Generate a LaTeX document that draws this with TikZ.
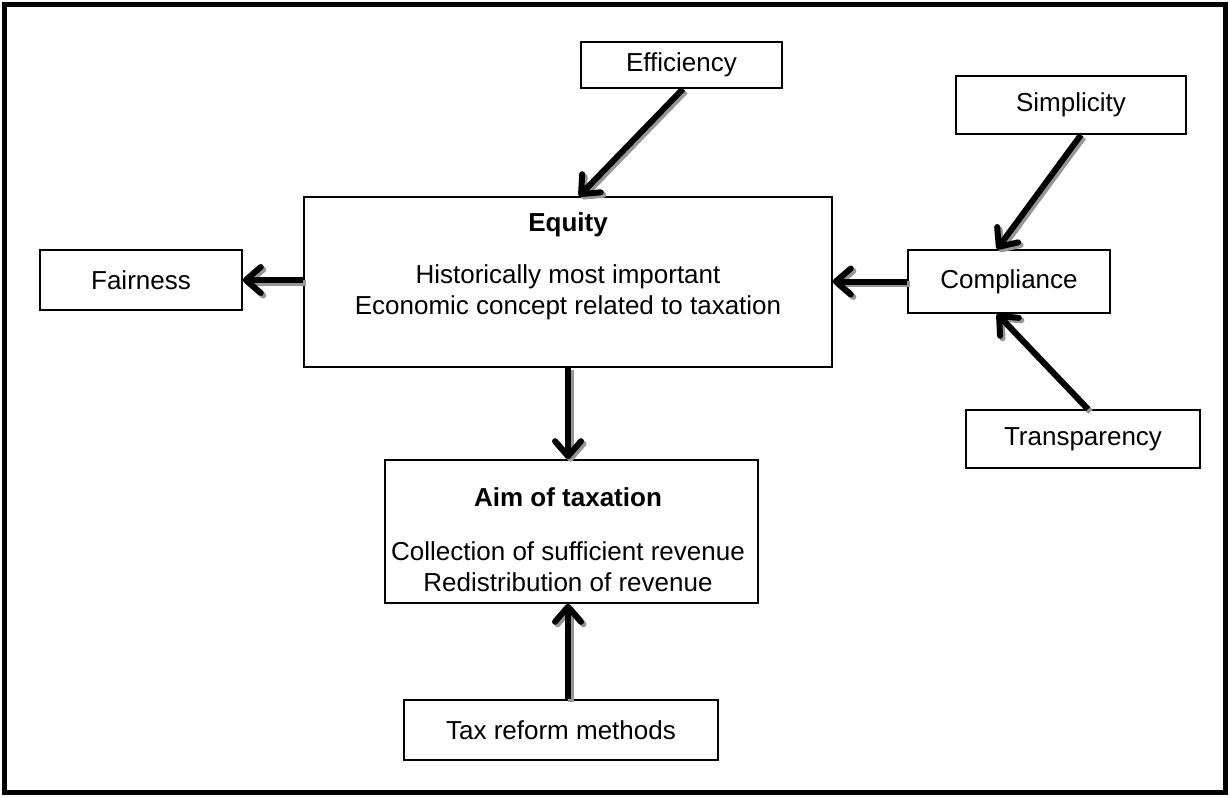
\documentclass[tikz,border=0pt]{standalone}
\usepackage{fontspec}
\setmainfont{Liberation Sans}
\usetikzlibrary{arrows.meta,calc}
\tikzset{
  box/.style={draw=black, line width=1.6pt, fill=white, inner sep=0pt, font=\fontsize{26}{31}\selectfont},
  txt/.style={inner sep=0pt, align=center, font=\fontsize{26}{31}\selectfont},
  arr/.style={line width=6pt, -{Straight Barb[length=15pt,width=26pt,round]}},
  arrshadow/.style={arr, draw={rgb,255:red,150;green,150;blue,150}, transform canvas={shift={(2.5pt,-2.5pt)}}}
}
\newcommand\shadarrow[2]{%
  \draw[arrshadow] #1 -- #2;
  \draw[arr] #1 -- #2;}
\begin{document}
\begin{tikzpicture}[x=1pt,y=-1pt]
\useasboundingbox (0,0) rectangle (1230,797);
\node[draw=black, line width=5pt, minimum width=1221pt, minimum height=788pt, inner sep=0pt] (frame) at (615,398.5) {};
% boxes
\node[box, minimum width=201pt, minimum height=46pt] (eff) at (681.5,65) {Efficiency};
\node[box, minimum width=230pt, minimum height=58pt] (simp) at (1071,105) {Simplicity};
\node[box, minimum width=202pt, minimum height=63pt] (comp) at (1009,281.5) {Compliance};
\node[box, minimum width=202pt, minimum height=60pt] (fair) at (141,280) {Fairness};
\node[box, minimum width=234pt, minimum height=58pt] (trans) at (1083,439) {Transparency};
\node[box, minimum width=528pt, minimum height=170pt] (equity) at (568,282) {};
\node[box, minimum width=373pt, minimum height=143pt] (aim) at (571.5,531.5) {};
\node[box, minimum width=314pt, minimum height=60pt] (tax) at (561,730) {Tax reform methods};
% texts
\node[txt, font=\fontsize{26}{31}\selectfont\bfseries] (eqtitle) at (568,225) {Equity};
\node[txt] (eqbody) at (568,292) {Historically most important\\Economic concept related to taxation};
\node[txt, font=\fontsize{26}{31}\selectfont\bfseries] (aimtitle) at (568,497) {Aim of taxation};
\node[txt] (aimbody) at (568,567) {Collection of sufficient revenue\\Redistribution of revenue};
% arrows
\shadarrow{([xshift=1.5pt]eff.south)}{([xshift=11pt]equity.north)}
\shadarrow{([xshift=10pt]simp.south)}{([xshift=-12pt]comp.north)}
\shadarrow{([xshift=5pt]trans.north)}{([xshift=-12pt]comp.south)}
\shadarrow{(comp.west)}{(comp.west -| equity.east)}
\shadarrow{(fair.east -| equity.west)}{(fair.east)}
\shadarrow{(equity.south)}{(equity.south |- aim.north)}
\shadarrow{([xshift=7pt]tax.north)}{([xshift=7pt]tax.north |- aim.south)}
\end{tikzpicture}
\end{document}
